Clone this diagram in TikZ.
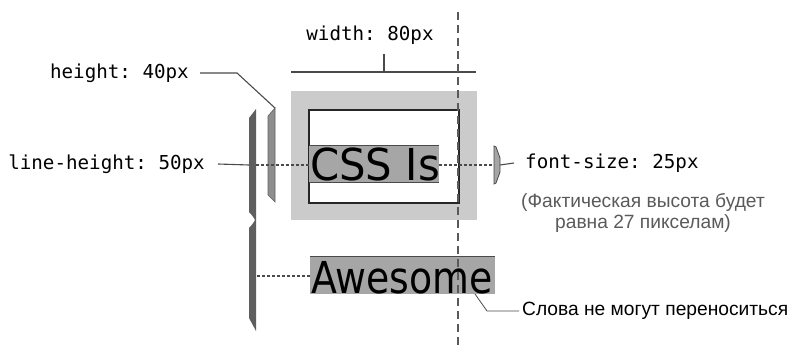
\documentclass[tikz,border=0pt]{standalone}
\usepackage{fontspec}
\setmainfont{Liberation Sans}
\setmonofont{DejaVu Sans Mono}
\newfontfamily\bigwordfont{DejaVu Sans}
\definecolor{boxgray}{HTML}{CBCBCB}
\definecolor{hlgray}{HTML}{A6A6A6}
\definecolor{edgegray}{HTML}{4A4A4A}
\definecolor{bracedark}{HTML}{5E5E5E}
\definecolor{bracelight}{HTML}{8E8E8E}
\definecolor{notegray}{HTML}{5A5A5A}
\begin{document}
\begin{tikzpicture}[x = 1pt, y = -1pt,
    monotext/.style = {font = \ttfamily\fontsize{19.2}{21}\selectfont, inner sep = 0pt},
    sanstext/.style = {font = \fontsize{19.2}{20.5}\selectfont, inner sep = 0pt},
    bigword/.style = {font = \bigwordfont\fontsize{44}{44}\selectfont, inner sep = 0pt, anchor = base west},
    conn/.style = {line width = 1.1pt, edgegray},
    dotline/.style = {line width = 1.2pt, edgegray, dash pattern = on 3pt off 2pt},
    guide/.style = {line width = 1.6pt, notegray, dash pattern = on 8pt off 5pt}]
    \useasboundingbox (0, 0) rectangle (789, 347);
    % boxes
    \fill[boxgray] (291, 91) rectangle (477, 220);
    \draw[line width = 1.8pt, fill = white, draw = black!85] (309, 110) rectangle (459, 203);
    \fill[hlgray] (309, 146) rectangle (439, 183);
    \draw[line width = 1pt, edgegray] (309, 146) -- (439, 146);
    \draw[line width = 1pt, edgegray] (309, 183) -- (439, 183);
    \fill[hlgray] (310, 256) rectangle (495, 294);
    \draw[line width = 1pt, edgegray] (310, 256) -- (495, 256);
    \node[bigword] (cssis) at (310, 181) {\scalebox{0.95}[1]{CSS Is}};
    \node[bigword] (awesome) at (311, 293) {\scalebox{0.86}[1]{Awesome}};
    % width dimension
    \coordinate (wleft) at (291, 72);
    \coordinate (wright) at (476, 72);
    \coordinate (wmid) at (384, 72);
    \node[monotext] (widthlbl) at (370, 35) {width: 80px};
    \draw[conn] (wleft) -- (wright);
    \draw[conn] (wmid) -- ++(0, -18);
    % braces
    \fill[bracedark] (249, 118) -- (256, 109) -- (256, 331) -- (249, 318) -- (249, 228)
        .. controls (252, 225) and (254, 222) .. (255, 220)
        .. controls (254, 218) and (252, 215) .. (249, 212) -- cycle;
    \filldraw[fill = bracelight, draw = bracedark, line width = 0.6pt] (268, 116) -- (275, 108) -- (275, 202) -- (268, 195) -- cycle;
    \filldraw[fill = hlgray, draw = edgegray, line width = 0.8pt] (494, 146) -- (496, 147) -- (500, 158) -- (500, 172) -- (496, 183) -- (494, 184) -- cycle;
    \coordinate (hbtop) at (275, 108);
    \coordinate (lbmid) at (249, 165);
    \coordinate (fsmark) at (500, 165);
    \coordinate (wordend) at (475, 294);
    % labels
    \node[monotext, anchor = east] (heightlbl) at (189, 73) {height: 40px};
    \node[monotext, anchor = east] (lhlbl) at (205, 164) {line-height: 50px};
    \node[monotext, anchor = west] (fslbl) at (525, 163) {font-size: 25px};
    \node[sanstext, notegray, align = center] (note) at (643, 213) {(Фактическая высота будет\\равна 27 пикселам)};
    \node[sanstext, anchor = west] (wraplbl) at (522, 311) {Слова не могут переноситься};
    % connectors
    \draw[conn] ([xshift = 11pt] heightlbl.east) -- ++(37, 0) -- (hbtop);
    \draw[conn] ([xshift = 13pt] lhlbl.east) -- (lbmid);
    \draw[conn] (fsmark) -- ([xshift = -11pt] fslbl.west);
    \draw[conn, line width = 0.8pt] (wordend) -- (487, 311) -- ([xshift = -3pt] wraplbl.west);
    \draw[dotline] (256, 165) -- (cssis.west |- 0, 165);
    \draw[dotline] (439, 165) -- (494, 165);
    \draw[dotline] (257, 276) -- (awesome.west |- 0, 276);
    % guide line
    \draw[guide] (458, 12) -- (458, 347);
\end{tikzpicture}
\end{document}
